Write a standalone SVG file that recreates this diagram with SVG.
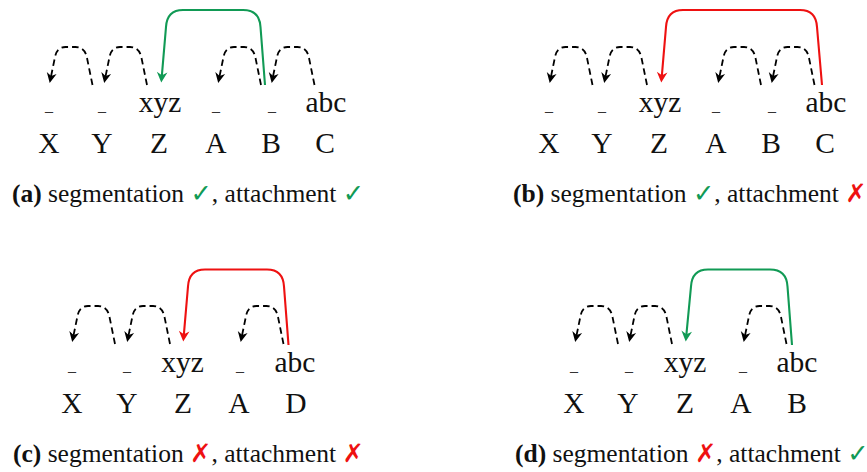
<svg xmlns="http://www.w3.org/2000/svg" xmlns:xlink="http://www.w3.org/1999/xlink" width="867" height="472" viewBox="0 0 867 472">
<style>
.tok{font-family:"Liberation Serif","Times New Roman",serif;font-size:29.5px;fill:#111;text-anchor:middle}
.und{font-family:"Liberation Serif","Times New Roman",serif;font-size:16px;fill:#333;text-anchor:middle}
.cap{font-family:"Liberation Serif","Times New Roman",serif;font-size:25.5px;fill:#111}
.lab{font-weight:bold}
.ok{fill:#119a55;font-family:"DejaVu Sans",sans-serif;font-weight:bold}
.no{fill:#ee1111;font-family:"DejaVu Sans",sans-serif;font-weight:bold}
.hop{fill:none;stroke:#000;stroke-width:1.8;stroke-dasharray:6.5 4}
.g{fill:none;stroke:#119a55;stroke-width:2.1}
.r{fill:none;stroke:#ee1111;stroke-width:2.1}
</style>
<defs>
<marker id="mk" markerUnits="userSpaceOnUse" viewBox="-13 -7 15 14" refX="-4" refY="0" markerWidth="15" markerHeight="14" orient="auto">
<path d="M0,0 L-10,-5 L-7,0 L-10,5 Z" fill="#000"/>
</marker>
<marker id="mg" markerUnits="userSpaceOnUse" viewBox="-13 -7 15 14" refX="-4" refY="0" markerWidth="15" markerHeight="14" orient="auto">
<path d="M0,0 L-10.5,-5.3 L-7.3,0 L-10.5,5.3 Z" fill="#119a55"/>
</marker>
<marker id="mr" markerUnits="userSpaceOnUse" viewBox="-13 -7 15 14" refX="-4" refY="0" markerWidth="15" markerHeight="14" orient="auto">
<path d="M0,0 L-10.5,-5.3 L-7.3,0 L-10.5,5.3 Z" fill="#ee1111"/>
</marker>
<path id="hop" class="hop" d="M44,85 L38.5,58 Q36.5,47 27,47 L17,47 Q8,47 6.3,58 L2,79" marker-end="url(#mk)"/>
</defs>

<!-- Panel (a) -->
<g id="panel-a">
<g id="a-n1"><text class="und" x="49" y="111">_</text><text class="tok" x="49" y="153">X</text></g>
<g id="a-n2"><text class="und" x="102" y="111">_</text><text class="tok" x="102" y="153">Y</text></g>
<g id="a-n3"><text class="tok" x="160" y="112">xyz</text><text class="tok" x="159" y="153">Z</text></g>
<g id="a-n4"><text class="und" x="216" y="111">_</text><text class="tok" x="216" y="153">A</text></g>
<g id="a-n5"><text class="und" x="272" y="111">_</text><text class="tok" x="271" y="153">B</text></g>
<g id="a-n6"><text class="tok" x="326" y="112">abc</text><text class="tok" x="325" y="153">C</text></g>
<g id="a-connectors">
<use xlink:href="#hop" x="48.5" y="0"/>
<use xlink:href="#hop" x="103" y="0"/>
<use xlink:href="#hop" x="217" y="0"/>
<use xlink:href="#hop" x="270.5" y="0"/>
<path class="g" d="M265,85 L260.5,27 Q259.5,10 243,10 L183,10 Q167,10 166,27 L161.6,78.6" marker-end="url(#mg)"/>
</g>
<text class="cap" x="12" y="202"><tspan class="lab">(a)</tspan> segmentation <tspan class="ok">✓</tspan>, attachment <tspan class="ok">✓</tspan></text>
</g>

<!-- Panel (b) -->
<g id="panel-b">
<g id="b-n1"><text class="und" x="549" y="111">_</text><text class="tok" x="549" y="153">X</text></g>
<g id="b-n2"><text class="und" x="602" y="111">_</text><text class="tok" x="602" y="153">Y</text></g>
<g id="b-n3"><text class="tok" x="660" y="112">xyz</text><text class="tok" x="659" y="153">Z</text></g>
<g id="b-n4"><text class="und" x="716" y="111">_</text><text class="tok" x="716" y="153">A</text></g>
<g id="b-n5"><text class="und" x="772" y="111">_</text><text class="tok" x="771" y="153">B</text></g>
<g id="b-n6"><text class="tok" x="826" y="112">abc</text><text class="tok" x="825" y="153">C</text></g>
<g id="b-connectors">
<use xlink:href="#hop" x="548.5" y="0"/>
<use xlink:href="#hop" x="603" y="0"/>
<use xlink:href="#hop" x="717" y="0"/>
<use xlink:href="#hop" x="770.5" y="0"/>
<path class="r" d="M822,85 L817,27 Q816,10 800,10 L683,10 Q667,10 666,27 L661.6,78.6" marker-end="url(#mr)"/>
</g>
<text class="cap" x="513" y="202"><tspan class="lab">(b)</tspan> segmentation <tspan class="ok">✓</tspan>, attachment <tspan class="no">✗</tspan></text>
</g>

<!-- Panel (c) -->
<g id="panel-c">
<g id="c-n1"><text class="und" x="72" y="371">_</text><text class="tok" x="72" y="413">X</text></g>
<g id="c-n2"><text class="und" x="127" y="371">_</text><text class="tok" x="127" y="413">Y</text></g>
<g id="c-n3"><text class="tok" x="182.5" y="372">xyz</text><text class="tok" x="183" y="413">Z</text></g>
<g id="c-n4"><text class="und" x="240" y="371">_</text><text class="tok" x="239" y="413">A</text></g>
<g id="c-n5"><text class="tok" x="295" y="372">abc</text><text class="tok" x="296" y="413">D</text></g>
<g id="c-connectors">
<use xlink:href="#hop" x="71" y="259"/>
<use xlink:href="#hop" x="126" y="259"/>
<use xlink:href="#hop" x="239.5" y="259"/>
<path class="r" d="M288.5,345 L284,286.5 Q283,269.5 267,269.5 L205,269.5 Q189,269.5 188,286.5 L183.6,337.6" marker-end="url(#mr)"/>
</g>
<text class="cap" x="13" y="462"><tspan class="lab">(c)</tspan> segmentation <tspan class="no">✗</tspan>, attachment <tspan class="no">✗</tspan></text>
</g>

<!-- Panel (d) -->
<g id="panel-d">
<g id="d-n1"><text class="und" x="574" y="371">_</text><text class="tok" x="574" y="413">X</text></g>
<g id="d-n2"><text class="und" x="629" y="371">_</text><text class="tok" x="628" y="413">Y</text></g>
<g id="d-n3"><text class="tok" x="685" y="372">xyz</text><text class="tok" x="685" y="413">Z</text></g>
<g id="d-n4"><text class="und" x="743" y="371">_</text><text class="tok" x="741" y="413">A</text></g>
<g id="d-n5"><text class="tok" x="797" y="372">abc</text><text class="tok" x="797" y="413">B</text></g>
<g id="d-connectors">
<use xlink:href="#hop" x="574" y="259"/>
<use xlink:href="#hop" x="628" y="259"/>
<use xlink:href="#hop" x="742.5" y="259"/>
<path class="g" d="M792,345 L787.5,286.5 Q786.5,269.5 770,269.5 L708,269.5 Q692,269.5 691,286.5 L686.1,337.6" marker-end="url(#mg)"/>
</g>
<text class="cap" x="515" y="462"><tspan class="lab">(d)</tspan> segmentation <tspan class="no">✗</tspan>, attachment <tspan class="ok">✓</tspan></text>
</g>
</svg>
